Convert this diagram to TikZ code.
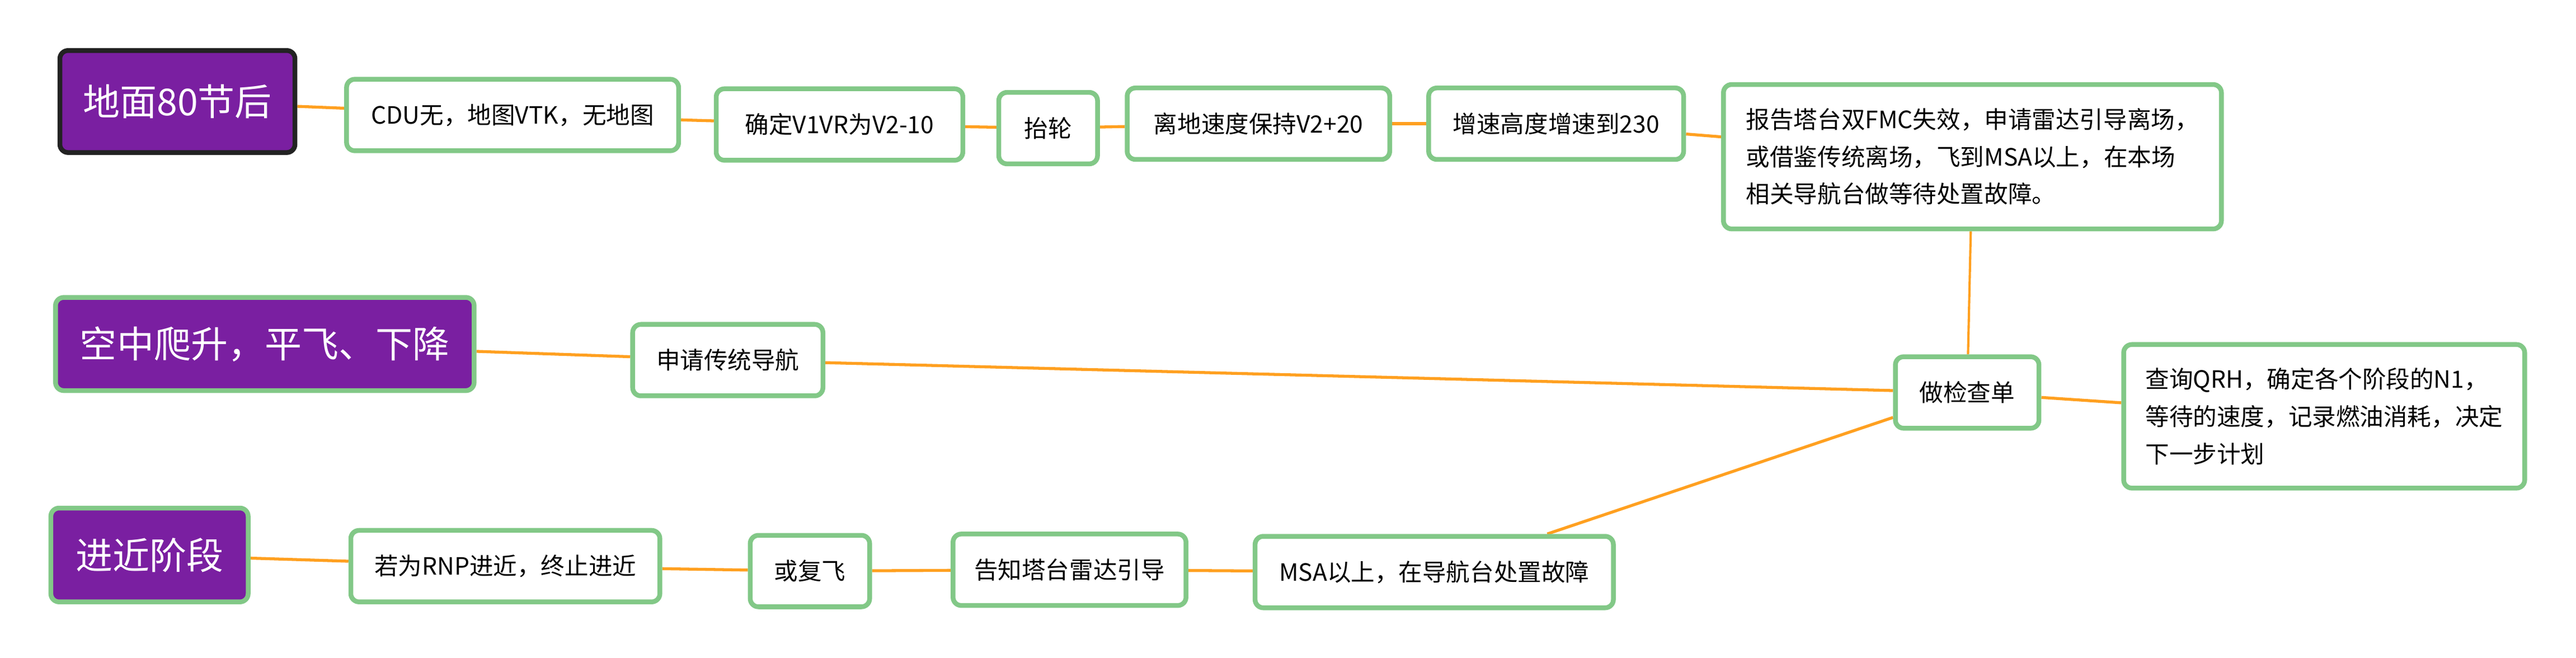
\documentclass[tikz,border=0pt]{standalone}
\usepackage{fontspec}
\setmainfont{Noto Sans CJK SC}
\usetikzlibrary{backgrounds}
\definecolor{rootpurple}{HTML}{7A1FA1}
\definecolor{rootdark}{HTML}{222222}
\definecolor{topicgreen}{HTML}{82C887}
\definecolor{linkorange}{HTML}{FFA020}
\tikzset{
  root/.style={draw=topicgreen, fill=rootpurple, text=white, line width=2.9pt,
    rounded corners=5pt, inner sep=0pt, font=\fontsize{22.5}{27}\selectfont},
  topic/.style={draw=topicgreen, fill=white, line width=2.9pt, rounded corners=5pt,
    inner sep=0pt, minimum height=43.5pt, align=left, font=\fontsize{14.5}{22.7}\selectfont},
  link/.style={draw=linkorange, line width=1.8pt}
}
\begin{document}
\begin{tikzpicture}[x=1pt, y=-1pt]
  \useasboundingbox (0,0) rectangle (1568,400.5);

  \node[root, draw=rootdark, minimum width=143.1pt, minimum height=62.1pt] (ground) at (108,61.8) {地面80节后};
  \node[topic, minimum width=202.1pt] (cdu) at (312,70) {CDU无，地图VTK，无地图};
  \node[topic, minimum width=150.1pt] (vspeed) at (511,75.8) {确定V1VR为V2-10};
  \node[topic, minimum width=60.1pt] (rotate) at (638,78) {抬轮};
  \node[topic, minimum width=159.8pt] (liftoff) at (766,75.3) {离地速度保持V2+20};
  \node[topic, minimum width=155.2pt] (climb) at (947.2,75.3) {增速高度增速到230};
  \node[topic, minimum width=303.1pt, minimum height=87.9pt] (report) at (1200.6,95.4)
    {报告塔台双FMC失效，申请雷达引导离场，\\或借鉴传统离场，飞到MSA以上，在本场\\相关导航台做等待处置故障。};
  \node[topic, minimum width=87.4pt] (check) at (1197.4,238.9) {做检查单};
  \node[topic, minimum width=244.1pt, minimum height=87.4pt] (qrh) at (1414.7,253.4)
    {查询QRH，确定各个阶段的N1，\\等待的速度，记录燃油消耗，决定\\下一步计划};

  \node[root, minimum width=254.8pt, minimum height=56.7pt] (air) at (161.2,209.4) {空中爬升，平飞、下降};
  \node[topic, minimum width=115.8pt] (convnav) at (443,219.2) {申请传统导航};

  \node[root, minimum width=120.1pt, minimum height=57.1pt] (approach) at (91,337.8) {进近阶段};
  \node[topic, minimum width=188.1pt] (rnp) at (307.6,344.6) {若为RNP进近，终止进近};
  \node[topic, minimum width=72.7pt] (goaround) at (493,347.6) {或复飞};
  \node[topic, minimum width=141.8pt] (radar) at (651,346.8) {告知塔台雷达引导};
  \node[topic, minimum width=218.1pt] (msa) at (873,348.2) {MSA以上，在导航台处置故障};

  \begin{scope}[on background layer]
    \draw[link] (ground) -- (cdu);
    \draw[link] (cdu) -- (vspeed);
    \draw[link] (vspeed) -- (rotate);
    \draw[link] (rotate) -- (liftoff);
    \draw[link] (liftoff) -- (climb);
    \draw[link] (climb) -- (report);
    \draw[link, line width=1.4pt] (report) -- (check);
    \draw[link] (check) -- (qrh);
    \draw[link] (air) -- (convnav);
    \draw[link] (convnav) -- (check);
    \draw[link] (approach) -- (rnp);
    \draw[link] (rnp) -- (goaround);
    \draw[link] (goaround) -- (radar);
    \draw[link] (radar) -- (msa);
    \draw[link] (msa) -- (check);
  \end{scope}
\end{tikzpicture}
\end{document}
